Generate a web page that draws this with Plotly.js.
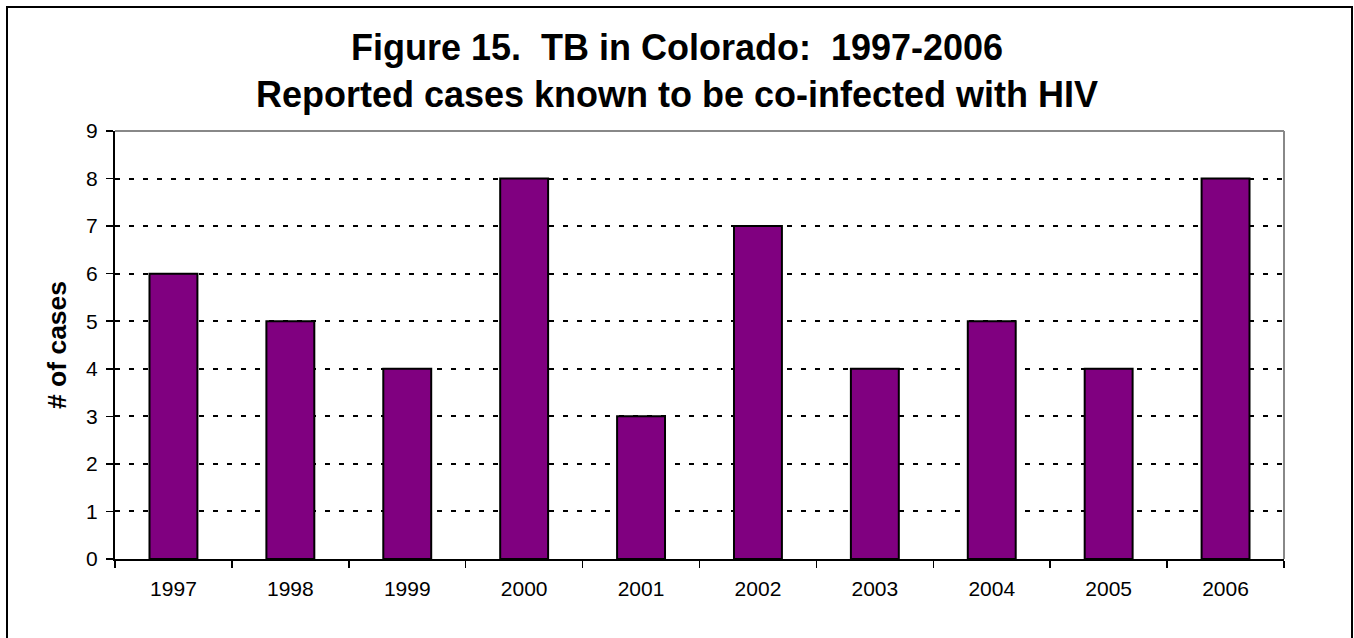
<!DOCTYPE html>
<html>
<head>
<meta charset="utf-8">
<script src="https://cdn.plot.ly/plotly-3.0.1.min.js"></script>
<style>
  html, body { margin: 0; padding: 0; background: #fff; }
  #wrap { position: relative; width: 1354px; height: 638px; overflow: hidden; }
  #chart { position: absolute; left: 0; top: 0; width: 1354px; height: 638px; }
  #frame { position: absolute; left: 6px; top: 6px; width: 1347px; height: 700px;
           border: 2px solid #000; pointer-events: none; box-sizing: border-box; }
</style>
</head>
<body>
<div id="wrap">
  <div id="chart"></div>
  <div id="frame"></div>
</div>
<script>
// Reported TB cases co-infected with HIV, Colorado
const years = ['1997', '1998', '1999', '2000', '2001', '2002', '2003', '2004', '2005', '2006'];
const cases = [6, 5, 4, 8, 3, 7, 4, 5, 4, 8];
const yTicks = [0, 1, 2, 3, 4, 5, 6, 7, 8, 9];

const FONT = 'Arial, "Liberation Sans", sans-serif';
const SP2 = '\u00a0 '; // double space that survives SVG whitespace collapsing

const trace = {
  type: 'bar',
  x: years,
  y: cases,
  marker: { color: '#800080', line: { color: '#000', width: 2 } },
  hoverinfo: 'x+y'
};

const layout = {
  width: 1354,
  height: 638,
  margin: { l: 115, r: 70, t: 131, b: 79 },
  paper_bgcolor: '#fff',
  plot_bgcolor: '#fff',
  bargap: 0.59,
  showlegend: false,
  font: { family: FONT, color: '#000' },
  title: {
    text: 'Figure 15.' + SP2 + 'TB in Colorado:' + SP2 + '1997-2006<br>Reported cases known to be co-infected with HIV',
    font: { family: FONT, size: 36, weight: 'bold', color: '#000' },
    x: 0.5, xanchor: 'center',
    y: 1 - 60 / 638, yanchor: 'middle', yref: 'container'
  },
  xaxis: {
    type: 'category',
    tickson: 'boundaries',
    ticks: 'outside', ticklen: 7, tickcolor: '#000', tickwidth: 1.5,
    showline: true, linecolor: '#000', linewidth: 2,
    showgrid: false,
    tickfont: { family: FONT, size: 21 },
    ticklabelstandoff: 10,
    fixedrange: true
  },
  yaxis: {
    range: [0, 9],
    tickvals: yTicks,
    ticktext: yTicks.map(String),
    ticks: 'outside', ticklen: 7, tickcolor: '#000', tickwidth: 1.5,
    showline: true, linecolor: '#000', linewidth: 2,
    showgrid: true, gridcolor: '#000', gridwidth: 2, griddash: '5px,9px',
    zeroline: false,
    tickfont: { family: FONT, size: 21 },
    ticklabelstandoff: 4,
    title: { text: '# of cases', font: { family: FONT, size: 26.5, weight: 'bold' }, standoff: 12 },
    fixedrange: true
  },
  shapes: [
    // grey frame on the top and right edges of the plotting area
    { type: 'line', xref: 'paper', yref: 'paper', x0: 0, x1: 1, y0: 1, y1: 1,
      line: { color: '#888', width: 2 }, layer: 'below' },
    { type: 'line', xref: 'paper', yref: 'paper', x0: 1, x1: 1, y0: 0, y1: 1,
      line: { color: '#888', width: 2 }, layer: 'below' }
  ]
};

Plotly.newPlot('chart', [trace], layout, { staticPlot: true, displayModeBar: false });
</script>
</body>
</html>
